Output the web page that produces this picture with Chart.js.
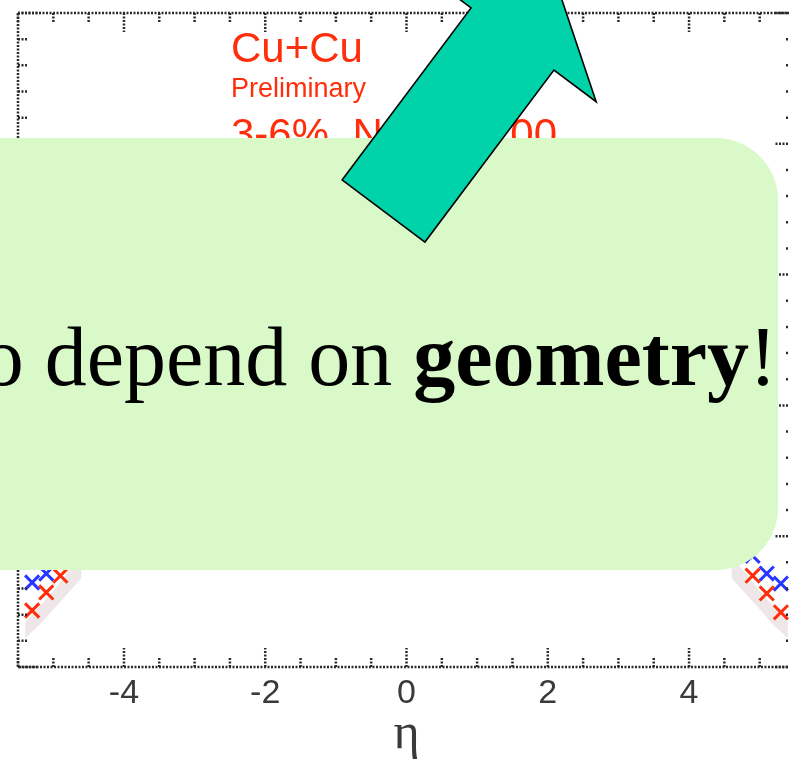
<!DOCTYPE html>
<html>
<head>
<meta charset="utf-8">
<script src="https://cdn.jsdelivr.net/npm/chart.js@4.4.0/dist/chart.umd.min.js"></script>
<style>
  html, body { margin: 0; padding: 0; background: #fff; overflow: hidden; width: 789px; height: 760px; }
  #wrap { position: absolute; left: -60px; top: 0; width: 880px; height: 760px; }
</style>
</head>
<body>
<div id="wrap"><canvas id="c" width="880" height="760"></canvas></div>
<script>
// Cu+Cu dN/deta, forward and backward edges
const etaRed      = [-5.3, -5.1, -4.9, 4.9, 5.1, 5.3];
const dndetaRed   = [21.6, 28.5, 34.9, 34.9, 28.1, 20.9];
const etaBlue     = [-5.3, -5.1, 4.9, 5.1, 5.3];
const dndetaBlue  = [32.3, 35.7, 42.5, 35.7, 31.9];

// systematic band
const etaBandL    = [-5.4, -5.2, -5.0, -4.8, -4.6];
const bandLowL    = [11, 16, 22, 28, 34];
const bandHighL   = [17, 23, 29, 36, 42];
const etaBandR    = [4.6, 4.8, 5.0, 5.2, 5.4];
const bandLowR    = [34, 28, 22, 16, 11];
const bandHighR   = [42, 36, 29, 23, 17];

const xTicks = [-4, -2, 0, 2, 4];
const yTicks = [0, 50, 100, 150, 200, 250];

const labelLines = ['Cu+Cu', 'Preliminary', '3-6%, N'];
const slideText = { lead: 'also depend on ', bold: 'geometry', tail: '!' };

const RED = 'rgb(255,45,10)';
const BLUE = 'rgb(40,55,255)';
const OX = 60; // canvas sits 60px left of the page edge

const pts = (xs, ys) => xs.map((x, i) => ({ x, y: ys[i] }));

const bandDs = (xs, ys, fill) => ({
  type: 'line', data: pts(xs, ys), showLine: true, pointRadius: 0,
  borderWidth: 0, borderColor: 'rgba(0,0,0,0)',
  backgroundColor: 'rgba(205,180,180,0.32)', fill, order: 3
});

const noPad = s => { s.paddingTop = 0; s.paddingBottom = 0; s.paddingLeft = 0; s.paddingRight = 0; };

const overlay = {
  id: 'overlay',
  afterDraw(chart) {
    const { ctx, chartArea: a, scales: { x, y } } = chart;
    ctx.save();

    // frame
    ctx.strokeStyle = '#2a2a2a';
    ctx.lineWidth = 2.5;
    ctx.setLineDash([2, 1.5]);
    ctx.strokeRect(a.left, a.top, a.right - a.left, a.bottom - a.top);

    // inward ticks, majors every 2 in eta and 50 in dN/deta
    ctx.beginPath();
    for (let v = -5.5; v <= 5.5001; v += 0.5) {
      const px = x.getPixelForValue(v);
      const len = xTicks.includes(v) ? 19 : 9;
      ctx.moveTo(px, a.bottom); ctx.lineTo(px, a.bottom - len);
      ctx.moveTo(px, a.top); ctx.lineTo(px, a.top + len);
    }
    for (let v = 0; v <= 250; v += 10) {
      const py = y.getPixelForValue(v);
      const len = v % 50 === 0 ? 20 : 9;
      ctx.moveTo(a.left, py); ctx.lineTo(a.left + len, py);
      ctx.moveTo(a.right, py); ctx.lineTo(a.right - len, py);
    }
    ctx.stroke();
    ctx.setLineDash([]);

    ctx.translate(OX, 0);

    // plot labels
    ctx.fillStyle = RED;
    ctx.textBaseline = 'alphabetic';
    ctx.textAlign = 'left';
    ctx.font = '42px "Liberation Sans"';
    ctx.fillText(labelLines[0], 231, 62);
    ctx.font = '27px "Liberation Sans"';
    ctx.fillText(labelLines[1], 231, 97);
    ctx.font = '42px "Liberation Sans"';
    ctx.fillText(labelLines[2], 231, 148);
    let nx = 231 + ctx.measureText(labelLines[2]).width;
    ctx.font = '25px "Liberation Sans"';
    ctx.fillText('part', nx, 156);
    ctx.font = '42px "Liberation Sans"';
    ctx.textAlign = 'right';
    ctx.fillText(' = 100', 557, 148);

    // callout box
    const bx = -30, by = 138, bw = 808, bh = 432, r = 62;
    ctx.fillStyle = 'rgb(217,249,201)';
    ctx.beginPath();
    ctx.moveTo(bx, by);
    ctx.lineTo(bx + bw - r, by);
    ctx.arcTo(bx + bw, by, bx + bw, by + r, r);
    ctx.lineTo(bx + bw, by + bh - r);
    ctx.arcTo(bx + bw, by + bh, bx + bw - r, by + bh, r);
    ctx.lineTo(bx, by + bh);
    ctx.closePath();
    ctx.fill();

    // callout text
    ctx.fillStyle = '#000';
    ctx.textAlign = 'right';
    const base = 385;
    let ex = 777;
    ctx.font = '84px "Liberation Serif"';
    ctx.fillText(slideText.tail, ex, base);
    ex -= ctx.measureText(slideText.tail).width;
    ctx.font = 'bold 84px "Liberation Serif"';
    ctx.fillText(slideText.bold, ex, base);
    ex -= ctx.measureText(slideText.bold).width;
    ctx.font = '84px "Liberation Serif"';
    ctx.fillText(slideText.lead, ex, base);

    // block arrow
    const ux = 0.6, uy = -0.8, qx = 0.8, qy = 0.6;
    const B = [383.5, 211], w = 51.8, hw = 104.6, S = 215, L = 72;
    const H = [B[0] + S * ux, B[1] + S * uy];
    const T = [H[0] + L * ux, H[1] + L * uy];
    const poly = [
      [B[0] - w * qx, B[1] - w * qy],
      [H[0] - w * qx, H[1] - w * qy],
      [H[0] - hw * qx, H[1] - hw * qy],
      T,
      [H[0] + hw * qx, H[1] + hw * qy],
      [H[0] + w * qx, H[1] + w * qy],
      [B[0] + w * qx, B[1] + w * qy]
    ];
    ctx.beginPath();
    poly.forEach((p, i) => i ? ctx.lineTo(p[0], p[1]) : ctx.moveTo(p[0], p[1]));
    ctx.closePath();
    ctx.fillStyle = 'rgb(0,210,170)';
    ctx.fill();
    ctx.strokeStyle = '#000';
    ctx.lineWidth = 1.6;
    ctx.lineJoin = 'miter';
    ctx.stroke();

    ctx.restore();
  }
};

new Chart(document.getElementById('c'), {
  type: 'scatter',
  data: {
    datasets: [
      bandDs(etaBandL, bandLowL, false),
      bandDs(etaBandL, bandHighL, '-1'),
      bandDs(etaBandR, bandLowR, false),
      bandDs(etaBandR, bandHighR, '-1'),
      {
        label: 'red', data: pts(etaRed, dndetaRed), pointStyle: 'crossRot',
        pointRadius: 10, borderColor: RED, borderWidth: 3, order: 1
      },
      {
        label: 'blue', data: pts(etaBlue, dndetaBlue), pointStyle: 'crossRot',
        pointRadius: 10, borderColor: BLUE, borderWidth: 3, order: 2
      }
    ]
  },
  options: {
    responsive: false,
    animation: false,
    devicePixelRatio: 1,
    layout: { padding: { top: 10, right: 25, left: 0, bottom: 0 } },
    plugins: { legend: { display: false }, tooltip: { enabled: false } },
    scales: {
      x: {
        type: 'linear', min: -5.5, max: 5.5,
        grid: { display: false, drawTicks: false },
        border: { display: false },
        afterBuildTicks: s => { s.ticks = xTicks.map(v => ({ value: v })); },
        afterFit: s => { s.height = 93; noPad(s); },
        ticks: { color: '#3a3a3a', font: { family: 'Liberation Sans', size: 34 }, padding: 6, callback: v => String(v) },
        title: { display: true, text: 'η', color: '#3a3a3a', font: { family: 'Liberation Serif', size: 50, lineHeight: 1.0 }, padding: { top: 0, bottom: 0 } }
      },
      y: {
        type: 'linear', min: 0, max: 250,
        grid: { display: false, drawTicks: false },
        border: { display: false },
        afterBuildTicks: s => { s.ticks = yTicks.map(v => ({ value: v })); },
        afterFit: s => { s.width = 78; noPad(s); },
        ticks: { color: '#3a3a3a', font: { family: 'Liberation Sans', size: 30 }, padding: 22 }
      }
    }
  },
  plugins: [overlay]
});
</script>
</body>
</html>
